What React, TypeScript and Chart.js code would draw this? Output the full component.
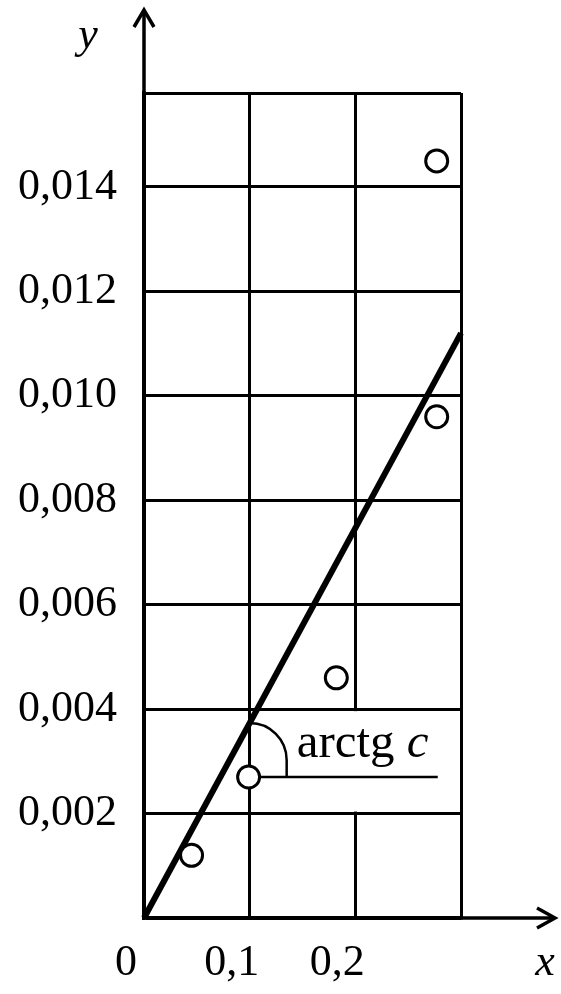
import React, { useEffect, useRef } from 'react';
import { Chart, registerables } from 'chart.js';

Chart.register(...registerables);

// ---- data ----
const xTicks = [0, 0.1, 0.2, 0.3];
const xTickLabels = ['0', '0,1', '0,2', ''];
const yTicks = [0, 0.002, 0.004, 0.006, 0.008, 0.01, 0.012, 0.014];
const yTickLabels = ['', '0,002', '0,004', '0,006', '0,008', '0,010', '0,012', '0,014', ''];
const xMin = 0;
const xMax = 0.3;
const yMin = 0;
const yMax = 0.0158;
const pointX = [0.045, 0.099, 0.182, 0.277, 0.277];
const pointY = [0.0012, 0.0027, 0.0046, 0.0096, 0.0145];
const fitX = [0, 0.3];
const fitY = [0, 0.0112];
const angleVertexX = 0.1;
const angleBaseY = 0.0027;
const angleBaseEndX = 0.278;
const gapX = 0.2;
const gapFrom = 0.002;
const gapTo = 0.004;
const annotationText = 'arctg';
const annotationVar = 'c';
const xTitle = 'x';
const yTitle = 'y';

const FONT = '"Liberation Serif", "Times New Roman", serif';

const decorPlugin = {
  id: 'decor',
  beforeDatasetsDraw(chart: any) {
    const { ctx, scales } = chart;
    const x = scales.x;
    const y = scales.y;
    ctx.save();
    // broken grid segment behind the annotation
    const gx = x.getPixelForValue(gapX);
    const gTop = y.getPixelForValue(gapTo);
    const gBot = y.getPixelForValue(gapFrom);
    ctx.fillStyle = '#ffffff';
    ctx.fillRect(gx - 3, gTop + 2, 6, gBot - gTop - 4);

    // angle annotation
    ctx.strokeStyle = '#000';
    ctx.lineWidth = 2.5;
    const cx = x.getPixelForValue(angleVertexX);
    const by = y.getPixelForValue(angleBaseY);
    const r = 37;
    const cy = by - 17;
    ctx.beginPath();
    ctx.moveTo(x.getPixelForValue(angleVertexX), by);
    ctx.lineTo(x.getPixelForValue(angleBaseEndX), by);
    ctx.stroke();
    ctx.beginPath();
    ctx.arc(cx, cy, r, -Math.PI / 2, 0, false);
    ctx.lineTo(cx + r, by);
    ctx.stroke();

    ctx.fillStyle = '#000';
    ctx.textBaseline = 'alphabetic';
    ctx.textAlign = 'left';
    ctx.font = `49px ${FONT}`;
    const tx = cx + 47;
    const ty = by - 20;
    ctx.fillText(annotationText, tx, ty);
    const w = ctx.measureText(annotationText + ' ').width;
    ctx.font = `italic 49px ${FONT}`;
    ctx.fillText(annotationVar, tx + w, ty);
    ctx.restore();
  },
  afterDraw(chart: any) {
    const { ctx, chartArea } = chart;
    const { left, right, top, bottom } = chartArea;
    ctx.save();
    ctx.strokeStyle = '#000';
    ctx.lineWidth = 3.5;
    ctx.lineCap = 'butt';
    // y axis extension + arrow
    ctx.beginPath();
    ctx.moveTo(left, top);
    ctx.lineTo(left, 10);
    ctx.stroke();
    ctx.beginPath();
    ctx.moveTo(left - 10, 27);
    ctx.lineTo(left, 10);
    ctx.lineTo(left + 10, 27);
    ctx.stroke();
    // x axis extension + arrow
    ctx.beginPath();
    ctx.moveTo(right, bottom);
    ctx.lineTo(555, bottom);
    ctx.stroke();
    ctx.beginPath();
    ctx.moveTo(537, bottom - 10);
    ctx.lineTo(555, bottom);
    ctx.lineTo(537, bottom + 10);
    ctx.stroke();
    // axis titles
    ctx.fillStyle = '#000';
    ctx.font = `italic 44px ${FONT}`;
    ctx.textAlign = 'center';
    ctx.textBaseline = 'middle';
    ctx.fillText(yTitle, 88, 36);
    ctx.fillText(xTitle, 545, 963);
    ctx.restore();
  },
};

export default function App() {
  const canvasRef = useRef<HTMLCanvasElement | null>(null);

  useEffect(() => {
    const canvas = canvasRef.current;
    if (!canvas) return;
    const chart = new Chart(canvas, {
      type: 'scatter',
      data: {
        datasets: [
          {
            label: 'points',
            data: pointX.map((v, i) => ({ x: v, y: pointY[i] })),
            pointRadius: 11,
            pointHoverRadius: 11,
            pointBackgroundColor: '#ffffff',
            pointBorderColor: '#000000',
            pointBorderWidth: 3,
            showLine: false,
            clip: false as any,
          },
          {
            label: 'fit',
            data: fitX.map((v, i) => ({ x: v, y: fitY[i] })),
            showLine: true,
            borderColor: '#000000',
            borderWidth: 6,
            pointRadius: 0,
            clip: false as any,
          },
        ],
      },
      options: {
        animation: false,
        responsive: false,
        events: [],
        layout: {
          autoPadding: false,
          padding: { left: 0, top: 93, right: 100, bottom: 0 },
        },
        plugins: {
          legend: { display: false },
          tooltip: { enabled: false },
          title: { display: false },
        },
        scales: {
          x: {
            type: 'linear',
            min: xMin,
            max: xMax,
            afterBuildTicks: (scale: any) => {
              scale.ticks = xTicks.map((value) => ({ value }));
            },
            afterFit: (scale: any) => {
              scale.height = 76;
            },
            grid: {
              color: '#000',
              lineWidth: 3,
              drawTicks: false,
              tickLength: 0,
            },
            border: { display: true, color: '#000', width: 3.5 },
            ticks: {
              autoSkip: false,
              maxRotation: 0,
              minRotation: 0,
              labelOffset: -18,
              padding: 19,
              color: '#000',
              font: { family: FONT, size: 44 },
              callback: (_v: any, index: number) => xTickLabels[index] ?? '',
            },
          },
          y: {
            type: 'linear',
            min: yMin,
            max: yMax,
            afterBuildTicks: (scale: any) => {
              scale.ticks = [...yTicks, yMax].map((value) => ({ value }));
            },
            afterFit: (scale: any) => {
              scale.width = 144;
            },
            grid: {
              color: '#000',
              lineWidth: 3,
              drawTicks: false,
              tickLength: 0,
            },
            border: { display: true, color: '#000', width: 3.5 },
            ticks: {
              autoSkip: false,
              padding: 27,
              color: '#000',
              font: { family: FONT, size: 44 },
              callback: (_v: any, index: number) => yTickLabels[index] ?? '',
            },
          },
        },
      },
      plugins: [decorPlugin],
    });
    return () => chart.destroy();
  }, []);

  return (
    <div style={{ position: 'fixed', left: 0, top: 0, width: 561, height: 994, background: '#fff' }}>
      <canvas ref={canvasRef} width={561} height={994} style={{ display: 'block' }} />
    </div>
  );
}
